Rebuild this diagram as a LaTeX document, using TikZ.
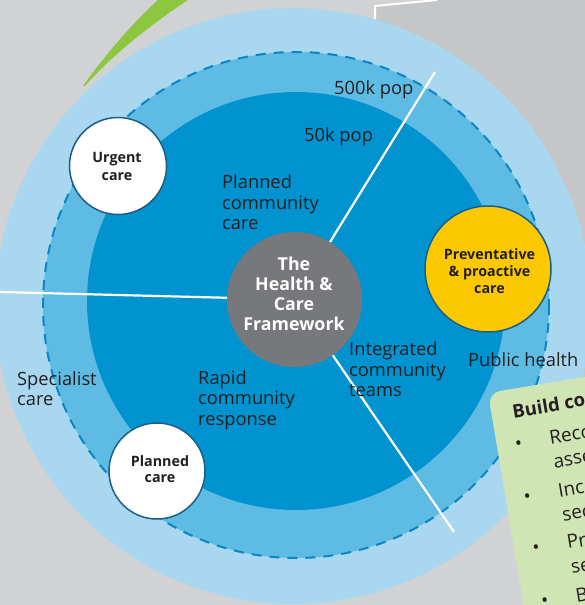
\documentclass[tikz,border=0pt]{standalone}
\usepackage{fontspec}
\setmainfont{Open Sans}
\definecolor{bgA}{HTML}{D1D2D4}
\definecolor{bgB}{HTML}{C5C6C8}
\definecolor{outerblue}{HTML}{A9D7EF}
\definecolor{midblue}{HTML}{5DBBE4}
\definecolor{innerblue}{HTML}{0093D0}
\definecolor{dashblue}{HTML}{0A86C5}
\definecolor{coregray}{HTML}{77787B}
\definecolor{prevyellow}{HTML}{FCC900}
\definecolor{ringborder}{HTML}{1D5E86}
\definecolor{leafgreen}{HTML}{8DC63F}
\definecolor{boxgreen}{HTML}{CFE5B3}
\definecolor{txt}{HTML}{231F20}
\tikzset{
  lbl/.style={anchor=base west, inner sep=0pt, text=txt, font=\fontsize{18.3}{20}\selectfont},
  blbl/.style={anchor=base, inner sep=0pt, text=txt, font=\fontsize{14.3}{17}\selectfont\bfseries},
  wlbl/.style={anchor=base, inner sep=0pt, text=white, font=\fontsize{17.8}{20}\selectfont\bfseries},
  boxtxt/.style={anchor=base west, inner sep=0pt, text=txt, font=\fontsize{19}{22}\selectfont},
  ringnode/.style={circle, draw=ringborder, line width=1.5pt, inner sep=0pt},
  spoke/.style={draw=white, line width=2.2pt},
}
\begin{document}
\begin{tikzpicture}[x=1pt,y=-1pt]
\useasboundingbox (0,0) rectangle (585,605);
% background
\fill[bgA] (0,0) rectangle (585,605);
\fill[bgB] (375,6) -- (437,0) -- (585,0) -- (585,400) -- (375,400) -- cycle;
\draw[white, line width=2pt] (375,19) -- (375,6) -- (437,0);
% green leaf
\fill[leafgreen] (83,86) .. controls (100,62) and (130,25) .. (158,0)
  -- (188,0) .. controls (150,25) and (110,57) .. (85,86) -- cycle;
% rings
\fill[outerblue] (293,306) circle (298);
\fill[midblue] (296,305) circle (253);
\draw[dashblue, line width=2pt, dash pattern=on 10pt off 8pt] (296,305) circle (253);
\fill[innerblue] (296,301) circle (209);
% core
\node[circle, fill=coregray, minimum size=135pt, inner sep=0pt] (gc) at (294.5,299.5) {};
\coordinate (e1) at (435,72);
\coordinate (e2) at (0,292);
\coordinate (e3) at (454,532);
\draw[spoke] (gc) -- (e1);
\draw[spoke] (gc) -- (e2);
\draw[spoke] (gc) -- (e3);
% satellite circles
\node[ringnode, fill=white, minimum size=97pt] (uc) at (118,166) {};
\node[ringnode, fill=white, minimum size=96pt] (pl) at (157,471) {};
\node[ringnode, fill=prevyellow, minimum size=126pt] (pv) at (488,269) {};
% core text
\node[wlbl] (g1) at (294,270) {The};
\node[wlbl] (g2) at (294,290.5) {Health \&};
\node[wlbl] (g3) at (294,310.7) {Care};
\node[wlbl] (g4) at (294,330.7) {Framework};
% circle texts
\node[blbl] (u1) at (117,162.7) {Urgent};
\node[blbl] (u2) at (117,180) {care};
\node[blbl] (p1) at (160,466.7) {Planned};
\node[blbl] (p2) at (160,482) {care};
\node[blbl] (v1) at (489.5,259.3) {Preventative};
\node[blbl] (v2) at (489.5,276.7) {\& proactive};
\node[blbl] (v3) at (489.5,293.3) {care};
% ring labels
\node[lbl] (t500) at (334,94) {500k pop};
\node[lbl] (t50) at (304,141) {50k pop};
\node[lbl] (pc1) at (222,188.5) {Planned};
\node[lbl] (pc2) at (222,209.5) {community};
\node[lbl] (pc3) at (222,229.5) {care};
\node[lbl] (ic1) at (349,355) {Integrated};
\node[lbl] (ic2) at (349,376) {community};
\node[lbl] (ic3) at (349,396) {teams};
\node[lbl] (rc1) at (198,384) {Rapid};
\node[lbl] (rc2) at (198,404.5) {community};
\node[lbl] (rc3) at (198,425) {response};
\node[lbl] (sp1) at (17,385) {Specialist};
\node[lbl] (sp2) at (17,405) {care};
\node[lbl] (ph) at (468,366.5) {Public health};
% green box
\begin{scope}[shift={(488,393)}, rotate=9.5, transform shape]
\fill[boxgreen, rounded corners=12pt] (0,0) rectangle (240,280);
\node[boxtxt, font=\fontsize{18.5}{22}\selectfont\bfseries] (bt) at (21,29) {Build co};
\node[boxtxt] (b1) at (18,61) {•};
\node[boxtxt] (b1a) at (53,61) {Reco};
\node[boxtxt] (b1b) at (53,85) {asse};
\node[boxtxt] (b2) at (18,115) {•};
\node[boxtxt] (b2a) at (53,115) {Inc};
\node[boxtxt] (b2b) at (53,139) {sec};
\node[boxtxt] (b3) at (18,167) {•};
\node[boxtxt] (b3a) at (53,167) {Pr};
\node[boxtxt] (b3b) at (53,192) {se};
\node[boxtxt] (b4) at (18,221) {•};
\node[boxtxt] (b4a) at (53,221) {B};
\end{scope}
\end{tikzpicture}
\end{document}
